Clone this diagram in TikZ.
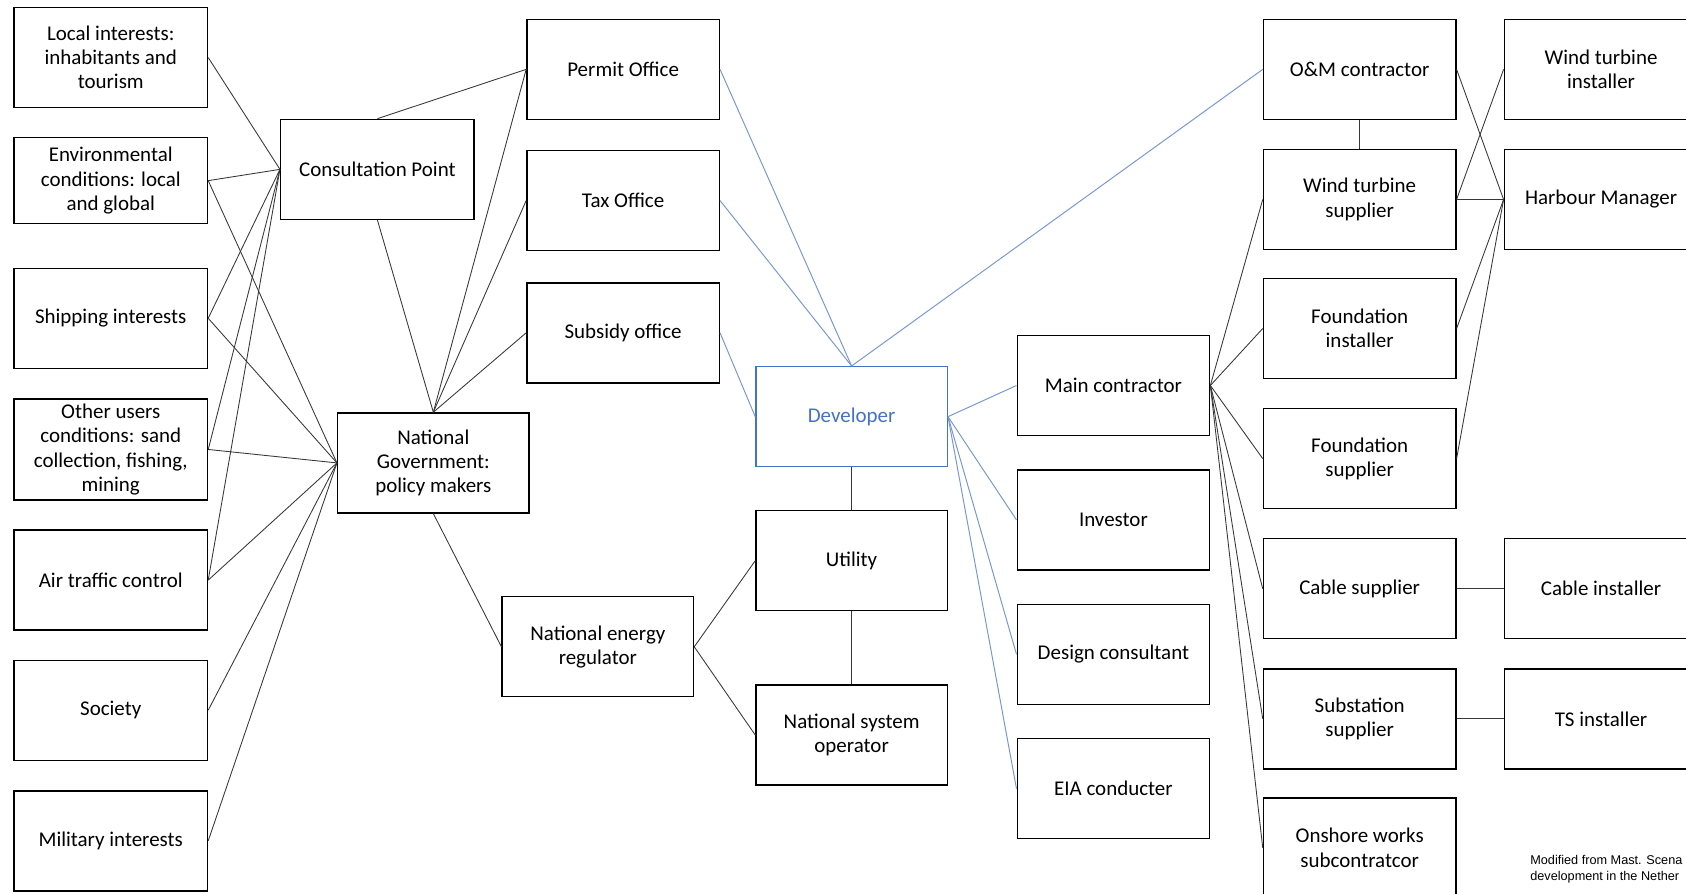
\documentclass[tikz,border=0pt]{standalone}
\usepackage{fontspec}
\setmainfont{Carlito}
\newfontfamily\notefont{Liberation Sans}
\definecolor{devblue}{RGB}{68,114,196}
\definecolor{linkblue}{RGB}{120,150,212}
\definecolor{linkgray}{RGB}{55,55,55}
\begin{document}
\begin{tikzpicture}[x=1pt,y=-1pt,
  box/.style={draw=black, line width=1.3pt, fill=white, inner sep=0pt,
    minimum width=180pt, minimum height=93pt, align=center,
    font=\fontsize{19.5}{22.5}\selectfont},
  devbox/.style={box, draw=devblue, text=devblue},
  link/.style={draw=linkgray, line width=0.8pt},
  blink/.style={draw=linkblue, line width=0.9pt},
  note/.style={inner sep=0pt, anchor=west, align=left,
    font=\notefont\fontsize{11.8}{15.5}\selectfont}]
\useasboundingbox (0,0) rectangle (1568,831);
\clip (0,0) rectangle (1568,831);
\fill[white] (0,0) rectangle (1568,831);

% left column
\node[box] (local) at (103,53.5) {Local interests:\\inhabitants and\\tourism};
\node[box, minimum height=80pt] (env) at (103,168) {Environmental\\conditions: local\\and global};
\node[box] (ship) at (103,296) {Shipping interests};
\node[box, minimum height=94pt] (other) at (103,418) {Other users\\conditions: sand\\collection, fishing,\\mining};
\node[box] (air) at (103,539.5) {Air traffic control};
\node[box] (society) at (103,660.5) {Society};
\node[box] (military) at (103,782) {Military interests};

% government
\node[box] (consult) at (351,157.5) {Consultation Point};
\node[box, minimum width=178pt] (natgov) at (403,430.5) {National\\Government:\\policy makers};
\node[box, minimum width=179pt] (permit) at (579.5,64.5) {Permit Office};
\node[box, minimum width=179pt] (tax) at (579.5,186.5) {Tax Office};
\node[box, minimum width=179pt] (subsidy) at (579.5,309.5) {Subsidy office};
\node[box, minimum width=178pt] (ner) at (556,601.5) {National energy\\regulator};

% centre
\node[devbox, minimum width=178pt] (dev) at (792,387.5) {Developer};
\node[box, minimum width=178pt] (utility) at (792,521.5) {Utility};
\node[box, minimum width=178pt] (nso) at (792,683.5) {National system\\operator};

% developer side
\node[box, minimum width=179pt] (main) at (1035.5,358.5) {Main contractor};
\node[box, minimum width=179pt] (investor) at (1035.5,483.5) {Investor};
\node[box, minimum width=179pt] (design) at (1035.5,608.5) {Design consultant};
\node[box, minimum width=179pt] (eia) at (1035.5,733.5) {EIA conducter};

% contractors
\node[box, minimum width=179pt] (om) at (1264.5,64.5) {O\&M contractor};
\node[box, minimum width=179pt] (wts) at (1264.5,185.5) {Wind turbine\\supplier};
\node[box, minimum width=179pt] (fi) at (1264.5,305.5) {Foundation\\installer};
\node[box, minimum width=179pt] (fs) at (1264.5,426.5) {Foundation\\supplier};
\node[box, minimum width=179pt] (cs) at (1264.5,547.5) {Cable supplier};
\node[box, minimum width=179pt] (ss) at (1264.5,668.5) {Substation\\supplier};
\node[box, minimum width=179pt] (onshore) at (1264.5,788.5) {Onshore works\\subcontratcor};

% far right
\node[box] (wti) at (1489,64.5) {Wind turbine\\installer};
\node[box] (hm) at (1489,185.5) {Harbour Manager};
\node[box] (ci) at (1489,547.5) {Cable installer};
\node[box] (ts) at (1489,668.5) {TS installer};

\node[note] (src) at (1423,808.5) {Modified from Mast. Scena\\development in the Nether};

% black connectors
\draw[link] (local.east) -- (consult.west);
\draw[link] (env.east) -- (consult.west);
\draw[link] (env.east) -- (natgov.west);
\draw[link] (ship.east) -- (consult.west);
\draw[link] (ship.east) -- (natgov.west);
\draw[link] (other.east) -- (consult.west);
\draw[link] (other.east) -- (natgov.west);
\draw[link] (air.east) -- (consult.west);
\draw[link] (air.east) -- (natgov.west);
\draw[link] (society.east) -- (natgov.west);
\draw[link] (military.east) -- (natgov.west);
\draw[link] (consult.north) -- (permit.west);
\draw[link] (consult.south) -- (natgov.north);
\draw[link] (natgov.north) -- (permit.west);
\draw[link] (natgov.north) -- (tax.west);
\draw[link] (natgov.north) -- (subsidy.west);
\draw[link] (natgov.south) -- (ner.west);
\draw[link] (ner.east) -- (utility.west);
\draw[link] (ner.east) -- (nso.west);
\draw[link] (dev.south) -- (utility.north);
\draw[link] (utility.south) -- (nso.north);
\draw[link] (main.east) -- (wts.west);
\draw[link] (main.east) -- (fi.west);
\draw[link] (main.east) -- (fs.west);
\draw[link] (main.east) -- (cs.west);
\draw[link] (main.east) -- (ss.west);
\draw[link] (main.east) -- (onshore.west);
\draw[link] (om.south) -- (wts.north);
\draw[link] (om.east) -- (hm.west);
\draw[link] (wts.east) -- (wti.west);
\draw[link] (wts.east) -- (hm.west);
\draw[link] (fi.east) -- (hm.west);
\draw[link] (fs.east) -- (hm.west);
\draw[link] (cs.east) -- (ci.west);
\draw[link] (ss.east) -- (ts.west);

% blue connectors
\draw[blink] (permit.east) -- (dev.north);
\draw[blink] (tax.east) -- (dev.north);
\draw[blink] (subsidy.east) -- (dev.west);
\draw[blink] (om.west) -- (dev.north);
\draw[blink] (dev.east) -- (main.west);
\draw[blink] (dev.east) -- (investor.west);
\draw[blink] (dev.east) -- (design.west);
\draw[blink] (dev.east) -- (eia.west);
\end{tikzpicture}
\end{document}
